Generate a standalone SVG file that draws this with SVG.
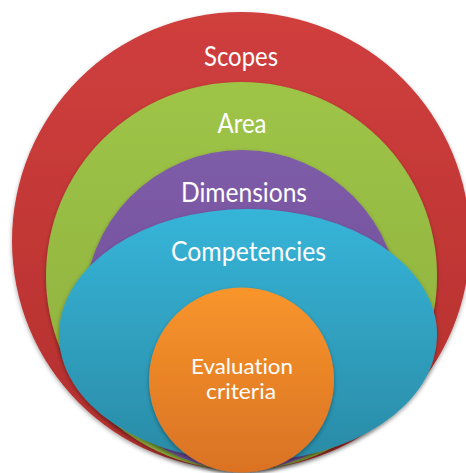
<svg xmlns="http://www.w3.org/2000/svg" width="466" height="473" viewBox="0 0 466 473">
  <defs>
    <linearGradient id="gRed" x1="0" y1="0" x2="0" y2="1">
      <stop offset="0" stop-color="#D03F3E"/>
      <stop offset="1" stop-color="#B32F2D"/>
    </linearGradient>
    <linearGradient id="gGreen" x1="0" y1="0" x2="0" y2="1">
      <stop offset="0" stop-color="#9EC447"/>
      <stop offset="1" stop-color="#8CAE3D"/>
    </linearGradient>
    <linearGradient id="gPurple" x1="0" y1="0" x2="0" y2="1">
      <stop offset="0" stop-color="#7E5CA8"/>
      <stop offset="1" stop-color="#6A4A93"/>
    </linearGradient>
    <linearGradient id="gBlue" x1="0" y1="0" x2="0" y2="1">
      <stop offset="0" stop-color="#36B5D9"/>
      <stop offset="1" stop-color="#2A8BA6"/>
    </linearGradient>
    <linearGradient id="gOrange" x1="0" y1="0" x2="0" y2="1">
      <stop offset="0" stop-color="#F8952B"/>
      <stop offset="1" stop-color="#DA7224"/>
    </linearGradient>
    <filter id="shadow" x="-10%" y="-10%" width="120%" height="120%">
      <feDropShadow dx="0" dy="2" stdDeviation="2" flood-color="#000" flood-opacity="0.35"/>
    </filter>
  </defs>
  <style>
    .lbl { font-family: Lato, "Open Sans", "Liberation Sans", sans-serif; fill: #FFFFFF; text-anchor: middle; font-variant-ligatures: none; }
    .shape { filter: url(#shadow); }
  </style>
  <rect width="466" height="473" fill="#FFFFFF"/>
  <g id="scopes">
    <circle class="shape" cx="241" cy="241" r="229" fill="url(#gRed)"/>
    <text class="lbl" x="241" y="66" font-size="26" textLength="74" lengthAdjust="spacingAndGlyphs">Scopes</text>
  </g>
  <g id="area">
    <ellipse class="shape" cx="241.5" cy="276" rx="195.5" ry="194" fill="url(#gGreen)"/>
    <text class="lbl" x="242" y="133" font-size="26" textLength="49" lengthAdjust="spacingAndGlyphs">Area</text>
  </g>
  <g id="dimensions">
    <ellipse class="shape" cx="242" cy="310" rx="158" ry="160" fill="url(#gPurple)"/>
    <text class="lbl" x="244" y="202" font-size="26" textLength="126" lengthAdjust="spacingAndGlyphs">Dimensions</text>
  </g>
  <g id="competencies">
    <ellipse class="shape" cx="248" cy="335" rx="189" ry="126" fill="url(#gBlue)"/>
    <text class="lbl" x="248.5" y="261" font-size="26" textLength="155" lengthAdjust="spacingAndGlyphs">Competencies</text>
  </g>
  <g id="evaluation-criteria">
    <circle class="shape" cx="241.5" cy="380" r="92.5" fill="url(#gOrange)"/>
    <text class="lbl" x="242" y="374" font-size="22" textLength="102" lengthAdjust="spacingAndGlyphs">Evaluation</text>
    <text class="lbl" x="241" y="399" font-size="22" textLength="70" lengthAdjust="spacingAndGlyphs">criteria</text>
  </g>
  <g id="connectors"/>
</svg>
